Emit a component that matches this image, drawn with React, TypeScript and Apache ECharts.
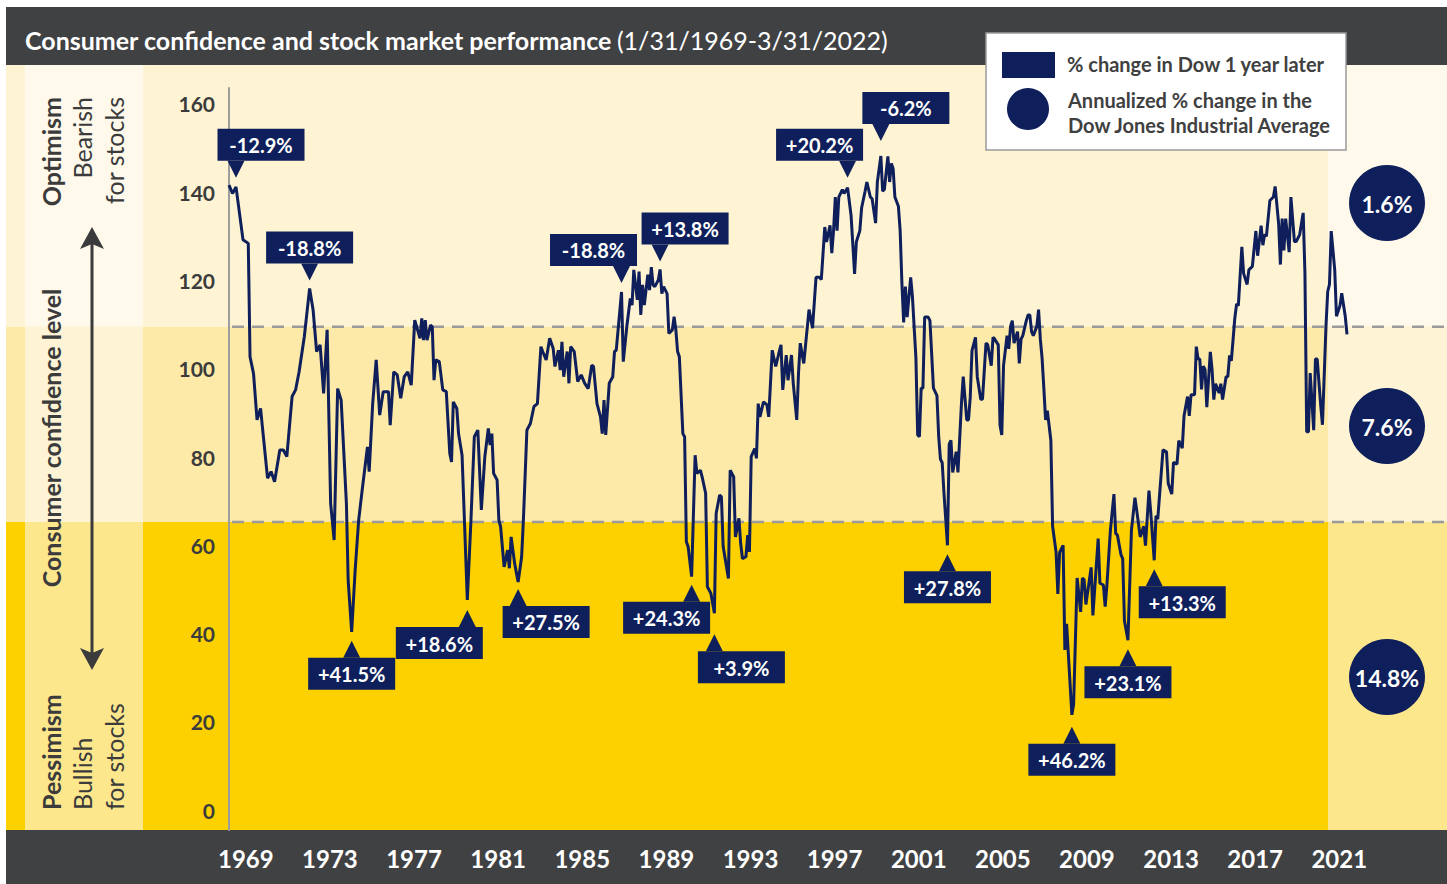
import React, { useEffect, useRef } from "react";
import * as echarts from "echarts";

// Consumer confidence readings, [month, index level]
const conf1960s: [string, number][] = [
  ["1969-01", 141.6], ["1969-03", 139.7], ["1969-05", 141.2], ["1969-09", 129.2], ["1969-12", 128.4],
];
const conf1970s: [string, number][] = [
  ["1970-01", 102.7], ["1970-03", 98.9], ["1970-05", 88.4], ["1970-07", 91.0], ["1970-11", 75.2],
  ["1971-01", 76.7], ["1971-03", 74.4], ["1971-06", 81.6], ["1971-08", 81.6], ["1971-10", 80.1], ["1971-11", 84.6],
  ["1972-01", 93.7], ["1972-03", 95.2], ["1972-05", 99.3], ["1972-08", 107.3], ["1972-11", 118.2],
  ["1973-01", 113.3], ["1973-03", 103.9], ["1973-05", 105.4], ["1973-07", 94.4], ["1973-09", 108.8], ["1973-11", 69.5],
  ["1974-01", 61.2], ["1974-03", 95.5], ["1974-05", 92.9], ["1974-08", 69.5], ["1974-09", 52.1], ["1974-11", 40.4],
  ["1975-01", 54.4], ["1975-03", 65.7], ["1975-05", 72.5], ["1975-08", 82.3], ["1975-09", 76.7], ["1975-11", 92.1],
  ["1976-01", 102.0], ["1976-03", 89.5], ["1976-05", 94.8], ["1976-08", 94.8], ["1976-09", 87.2], ["1976-11", 99.3],
  ["1977-01", 98.6], ["1977-03", 93.3], ["1977-05", 98.2], ["1977-07", 99.3], ["1977-09", 96.3], ["1977-11", 111.0],
  ["1978-02", 106.9], ["1978-03", 111.4], ["1978-04", 106.5], ["1978-05", 111.0], ["1978-06", 106.5], ["1978-08", 109.9],
  ["1978-09", 109.5], ["1978-10", 97.4], ["1978-11", 102.0],
  ["1979-01", 101.6], ["1979-03", 95.2], ["1979-05", 94.8], ["1979-07", 80.8], ["1979-08", 78.9], ["1979-09", 92.5],
  ["1979-11", 91.0], ["1979-12", 85.3],
];
const conf1980s: [string, number][] = [
  ["1980-02", 80.4], ["1980-05", 47.6], ["1980-07", 65.0], ["1980-09", 84.6], ["1980-11", 86.1],
  ["1981-01", 68.0], ["1981-03", 80.1], ["1981-05", 86.5], ["1981-06", 82.7], ["1981-07", 85.3], ["1981-08", 76.3],
  ["1981-10", 74.8], ["1981-11", 65.7], ["1981-12", 64.2],
  ["1982-02", 55.1], ["1982-04", 58.9], ["1982-05", 54.8], ["1982-06", 61.9], ["1982-08", 55.9], ["1982-10", 51.7], ["1982-12", 57.4],
  ["1983-01", 65.7], ["1983-03", 86.1], ["1983-05", 87.6], ["1983-07", 91.4], ["1983-09", 92.1], ["1983-11", 105.0], ["1983-12", 103.9],
  ["1984-02", 102.0], ["1984-04", 106.9], ["1984-06", 104.6], ["1984-07", 100.5], ["1984-09", 104.2], ["1984-10", 99.7],
  ["1984-11", 106.1], ["1984-12", 98.2],
  ["1985-02", 103.9], ["1985-03", 96.7], ["1985-04", 105.0], ["1985-06", 103.9], ["1985-08", 97.1], ["1985-10", 98.6], ["1985-12", 96.7],
  ["1986-02", 95.5], ["1986-04", 100.8], ["1986-05", 100.5], ["1986-07", 92.1], ["1986-09", 89.1], ["1986-10", 85.3],
  ["1986-11", 92.9], ["1986-12", 85.0],
  ["1987-02", 96.7], ["1987-04", 98.2], ["1987-05", 103.9], ["1987-06", 104.2], ["1987-09", 117.4], ["1987-10", 101.6], ["1987-12", 109.5],
  ["1988-02", 115.9], ["1988-03", 114.4], ["1988-04", 122.4], ["1988-06", 115.6], ["1988-07", 122.0], ["1988-08", 112.2],
  ["1988-09", 119.0], ["1988-10", 114.4], ["1988-12", 121.3],
  ["1989-01", 117.8], ["1989-02", 123.0], ["1989-03", 119.0], ["1989-04", 118.6], ["1989-06", 120.1], ["1989-07", 122.5],
  ["1989-08", 117.0], ["1989-09", 118.6], ["1989-11", 117.0], ["1989-12", 108.0],
];
const conf1990s: [string, number][] = [
  ["1990-02", 108.8], ["1990-03", 111.8], ["1990-04", 108.8], ["1990-05", 103.9], ["1990-06", 102.7], ["1990-08", 85.3],
  ["1990-09", 84.6], ["1990-10", 60.8], ["1990-11", 59.7],
  ["1991-01", 52.9], ["1991-03", 80.4], ["1991-04", 76.3], ["1991-06", 77.0], ["1991-07", 75.5], ["1991-09", 71.8],
  ["1991-10", 50.6], ["1991-12", 49.1],
  ["1992-02", 44.6], ["1992-03", 67.2], ["1992-05", 71.4], ["1992-06", 71.0], ["1992-07", 59.7], ["1992-10", 52.5], ["1992-11", 77.0],
  ["1993-01", 75.5], ["1993-02", 61.9], ["1993-04", 66.1], ["1993-05", 60.4], ["1993-06", 57.0], ["1993-08", 57.4],
  ["1993-09", 62.3], ["1993-10", 58.5], ["1993-11", 80.1],
  ["1994-01", 81.9], ["1994-02", 79.7], ["1994-03", 92.1], ["1994-04", 89.1], ["1994-06", 92.5], ["1994-08", 91.8],
  ["1994-09", 89.1], ["1994-11", 104.2],
  ["1995-01", 100.5], ["1995-03", 103.9], ["1995-04", 105.4], ["1995-05", 95.2], ["1995-07", 103.1], ["1995-08", 97.4],
  ["1995-10", 103.1], ["1995-11", 96.7],
  ["1996-01", 88.4], ["1996-02", 99.0], ["1996-03", 105.8], ["1996-05", 101.2], ["1996-08", 113.4], ["1996-10", 109.2], ["1996-12", 120.7],
  ["1997-02", 120.7], ["1997-03", 120.2], ["1997-05", 132.1], ["1997-06", 128.7], ["1997-08", 132.5], ["1997-09", 126.2],
  ["1997-10", 131.3], ["1997-11", 138.9], ["1997-12", 131.3],
  ["1998-01", 138.9], ["1998-03", 140.6], ["1998-04", 139.7], ["1998-06", 141.0], ["1998-08", 134.7], ["1998-10", 121.5], ["1998-11", 128.7],
  ["1999-01", 131.3], ["1999-02", 136.4], ["1999-04", 140.2], ["1999-05", 142.3], ["1999-07", 138.9], ["1999-08", 138.5],
  ["1999-10", 133.0], ["1999-11", 142.3],
];
const conf2000s: [string, number][] = [
  ["2000-01", 148.2], ["2000-02", 140.2], ["2000-03", 140.6], ["2000-05", 148.1], ["2000-06", 142.3], ["2000-07", 146.5],
  ["2000-08", 145.3], ["2000-09", 138.9], ["2000-11", 136.8], ["2000-12", 131.3],
  ["2001-01", 119.4], ["2001-02", 110.5], ["2001-03", 118.6], ["2001-04", 111.7], ["2001-06", 120.7], ["2001-07", 116.4],
  ["2001-09", 102.4], ["2001-10", 85.0], ["2001-11", 84.6], ["2001-12", 95.6],
  ["2002-01", 95.6], ["2002-02", 111.7], ["2002-04", 111.7], ["2002-05", 110.9], ["2002-07", 95.6], ["2002-09", 93.9],
  ["2002-10", 84.6], ["2002-11", 79.5], ["2002-12", 78.7],
  ["2003-01", 71.9], ["2003-03", 60.0], ["2003-04", 82.9], ["2003-05", 83.8], ["2003-06", 76.5], ["2003-08", 81.2],
  ["2003-09", 76.5], ["2003-11", 92.2], ["2003-12", 98.2],
  ["2004-02", 88.4], ["2004-03", 88.4], ["2004-04", 93.5], ["2004-05", 104.1], ["2004-07", 107.1], ["2004-08", 98.2],
  ["2004-10", 93.1], ["2004-11", 93.1],
  ["2005-01", 105.8], ["2005-02", 105.4], ["2005-04", 100.7], ["2005-05", 107.1], ["2005-06", 106.7], ["2005-08", 105.4],
  ["2005-09", 87.2], ["2005-10", 85.0], ["2005-11", 100.7],
  ["2006-01", 107.5], ["2006-02", 104.5], ["2006-03", 109.6], ["2006-04", 110.9], ["2006-05", 105.8], ["2006-07", 108.4],
  ["2006-08", 101.2], ["2006-09", 106.7], ["2006-10", 107.5], ["2006-12", 110.9],
  ["2007-01", 112.2], ["2007-02", 112.2], ["2007-03", 108.4], ["2007-04", 107.5], ["2007-06", 109.6], ["2007-07", 113.4],
  ["2007-08", 106.7], ["2007-09", 102.4], ["2007-10", 95.6], ["2007-11", 88.4], ["2007-12", 90.5],
  ["2008-02", 83.8], ["2008-03", 64.3], ["2008-05", 58.4], ["2008-06", 49.0], ["2008-07", 58.4], ["2008-09", 60.0],
  ["2008-10", 36.3], ["2008-11", 42.2], ["2008-12", 35.3],
  ["2009-02", 21.6], ["2009-03", 24.0], ["2009-05", 52.6], ["2009-07", 44.9], ["2009-08", 52.6], ["2009-09", 52.2], ["2009-10", 46.6],
];
const conf2010s: [string, number][] = [
  ["2010-01", 55.0], ["2010-02", 44.1], ["2010-05", 61.5], ["2010-06", 51.4], ["2010-08", 51.0], ["2010-09", 46.1],
  ["2010-10", 51.0], ["2010-12", 63.5],
  ["2011-02", 71.6], ["2011-03", 62.7], ["2011-04", 62.3], ["2011-06", 57.9], ["2011-07", 57.0], ["2011-08", 42.9],
  ["2011-10", 38.5], ["2011-12", 63.5],
  ["2012-02", 70.8], ["2012-03", 67.9], ["2012-05", 61.9], ["2012-07", 64.3], ["2012-08", 59.9], ["2012-10", 72.4], ["2012-11", 67.5],
  ["2013-01", 56.6], ["2013-02", 66.7], ["2013-03", 65.9], ["2013-06", 81.6], ["2013-08", 81.2], ["2013-09", 74.0],
  ["2013-11", 71.6], ["2013-12", 78.8],
  ["2014-02", 78.4], ["2014-03", 83.7], ["2014-05", 82.0], ["2014-06", 89.3], ["2014-08", 93.7], ["2014-09", 89.3],
  ["2014-10", 94.1], ["2014-12", 94.1],
  ["2015-01", 105.0], ["2015-02", 102.2], ["2015-03", 102.2], ["2015-04", 95.3], ["2015-05", 100.6], ["2015-06", 99.8],
  ["2015-07", 91.3], ["2015-09", 103.8], ["2015-10", 99.8], ["2015-11", 93.0], ["2015-12", 96.6],
  ["2016-02", 94.5], ["2016-03", 96.6], ["2016-04", 93.0], ["2016-06", 98.2], ["2016-07", 98.2], ["2016-08", 103.0],
  ["2016-09", 101.8], ["2016-11", 111.5], ["2016-12", 114.7],
  ["2017-01", 114.3], ["2017-03", 127.6], ["2017-04", 121.6], ["2017-06", 119.1], ["2017-07", 122.4], ["2017-09", 123.2],
  ["2017-11", 131.2], ["2017-12", 125.6],
  ["2018-02", 132.4], ["2018-03", 128.0], ["2018-04", 130.4], ["2018-05", 130.0], ["2018-07", 138.1], ["2018-09", 138.9],
  ["2018-10", 141.3], ["2018-12", 132.8],
  ["2019-01", 123.6], ["2019-02", 134.0], ["2019-03", 126.8], ["2019-04", 134.0], ["2019-06", 126.4], ["2019-07", 138.9],
  ["2019-09", 128.8], ["2019-10", 128.8], ["2019-12", 130.4],
];
const conf2020s: [string, number][] = [
  ["2020-02", 135.3], ["2020-03", 121.6], ["2020-04", 85.7], ["2020-05", 85.7], ["2020-06", 99.0], ["2020-08", 86.1],
  ["2020-09", 102.2], ["2020-10", 102.2], ["2020-12", 91.7],
  ["2021-01", 87.3], ["2021-03", 109.5], ["2021-04", 117.5], ["2021-05", 119.1], ["2021-06", 131.2], ["2021-08", 122.4],
  ["2021-09", 111.9], ["2021-11", 114.3], ["2021-12", 117.1],
  ["2022-02", 111.9], ["2022-03", 107.8],
];

const yTicks = [0, 20, 40, 60, 80, 100, 120, 140, 160];
const xTickYears = [1969, 1973, 1977, 1981, 1985, 1989, 1993, 1997, 2001, 2005, 2009, 2013, 2017, 2021];
const bandThresholds = [109.5, 65.3];
const bandReturns = ["1.6%", "7.6%", "14.8%"];

const calloutTexts = [
  "-12.9%", "-18.8%", "+41.5%", "+18.6%", "+27.5%", "-18.8%", "+13.8%", "+24.3%",
  "+3.9%", "+20.2%", "-6.2%", "+27.8%", "+46.2%", "+23.1%", "+13.3%",
];
const calloutDates = [
  "1969-05", "1972-11", "1974-11", "1980-05", "1982-10", "1987-09", "1989-07", "1991-01",
  "1992-02", "1998-06", "2000-01", "2003-03", "2009-02", "2011-10", "2013-01",
];

// layout of the callouts (side of the line, box shift, gap to the line)
const calloutLayout = [
  { up: true, dx: 25, gap: 9 }, { up: true, dx: 0, gap: 8 }, { up: false, dx: 0, gap: 9 },
  { up: false, dx: -28, gap: 10 }, { up: false, dx: 28, gap: 7 }, { up: true, dx: -28, gap: 9 },
  { up: true, dx: 25, gap: 8 }, { up: false, dx: -25, gap: 8 }, { up: false, dx: 27, gap: 21 },
  { up: true, dx: -28, gap: 10 }, { up: true, dx: 25, gap: 15 }, { up: false, dx: 0, gap: 9 },
  { up: false, dx: 0, gap: 12 }, { up: false, dx: 0, gap: 9 }, { up: false, dx: 28, gap: 9 },
];

const NAVY = "#0e1f5b";
const DARK = "#404143";
const TEXT = "#3b3b3b";
const FONT = "Lato, 'Open Sans', sans-serif";

const toYear = (d: string) => {
  const [y, m] = d.split("-").map(Number);
  return y + (m - 1) / 12;
};

const readings = [...conf1960s, ...conf1970s, ...conf1980s, ...conf1990s, ...conf2000s, ...conf2010s, ...conf2020s];
const seriesData = readings.map(([d, v]) => [toYear(d), v]);

export default function App() {
  const ref = useRef<HTMLDivElement>(null);

  useEffect(() => {
    const chart = echarts.init(ref.current!, null, { renderer: "svg" });
    chart.setOption({
      animation: false,
      title: {
        text: "{b|Consumer confidence and stock market performance} {r|(1/31/1969-3/31/2022)}",
        left: 25,
        top: 27,
        padding: 0,
        z: 10,
        textStyle: {
          rich: {
            b: { fontFamily: FONT, fontWeight: "bold", fontSize: 25, color: "#ffffff" },
            r: { fontFamily: FONT, fontWeight: "normal", fontSize: 25, color: "#ffffff" },
          },
        },
      },
      grid: { left: 229, right: 93, top: 88, bottom: 54 },
      xAxis: {
        type: "value",
        min: 1969,
        max: 2022.5,
        z: 5,
        axisLine: { show: false },
        axisTick: { show: false },
        splitLine: { show: false },
        axisLabel: {
          customValues: xTickYears.map((y) => y + 0.8),
          formatter: (v: number) => String(Math.floor(v)),
          color: "#ffffff",
          fontFamily: FONT,
          fontWeight: "bold",
          fontSize: 24,
          margin: 16,
        },
      },
      yAxis: {
        type: "value",
        min: -4.5,
        max: 163.6,
        z: 5,
        axisLine: { show: true, lineStyle: { color: "#9d9d9d", width: 2 } },
        axisTick: { show: false },
        splitLine: { show: false },
        axisLabel: {
          customValues: yTicks,
          color: TEXT,
          fontFamily: FONT,
          fontWeight: "bold",
          fontSize: 21,
          margin: 14,
        },
      },
      series: [
        {
          type: "line",
          data: seriesData,
          showSymbol: false,
          symbol: "none",
          silent: true,
          z: 6,
          lineStyle: { color: NAVY, width: 3 },
        },
      ],
    });

    const P = (x: number, v: number) => chart.convertToPixel({ seriesIndex: 0 }, [x, v]) as number[];
    const yHi = P(1969, bandThresholds[0])[1];
    const yLo = P(1969, bandThresholds[1])[1];
    const top = 65;
    const bottom = 830;

    const els: any[] = [];
    const rect = (x: number, y: number, w: number, h: number, fill: string, z = 0) =>
      els.push({ type: "rect", shape: { x, y, width: w, height: h }, style: { fill }, z, silent: true });
    const text = (x: number, y: number, t: string, font: string, fill: string, align = "center", rotation = 0, z = 1) =>
      els.push({
        type: "text",
        x,
        y,
        rotation,
        z,
        silent: true,
        style: { text: t, font, fill, align, verticalAlign: "middle", textAlign: align, textVerticalAlign: "middle" },
      });

    // bands
    rect(6, top, 1441, yHi - top, "#fef4d3");
    rect(6, yHi, 1441, yLo - yHi, "#fde9a8");
    rect(6, yLo, 1441, bottom - yLo, "#fdd100");
    for (const x0 of [25, 1328]) {
      const w = x0 === 25 ? 118 : 119;
      rect(x0, top, w, yHi - top, "#fef9eb");
      rect(x0, yHi, w, yLo - yHi, "#fef4d5");
      rect(x0, yLo, w, bottom - yLo, "#fde78d");
    }
    rect(6, 7, 1441, 58, DARK);
    rect(6, bottom, 1441, 884 - bottom, DARK);

    // dashed thresholds
    for (const yy of [yHi, yLo]) {
      els.push({
        type: "line",
        z: 1,
        silent: true,
        shape: { x1: 232, y1: yy, x2: 1447, y2: yy },
        style: { stroke: "#9b9b9b", lineWidth: 2.5, lineDash: [12, 8] },
      });
    }

    // left side texts
    const R = Math.PI / 2;
    text(51, 97, "Optimism", `bold 25px ${FONT}`, TEXT, "right", R);
    text(82, 97, "Bearish", `25px ${FONT}`, TEXT, "right", R);
    text(114, 97, "for stocks", `25px ${FONT}`, TEXT, "right", R);
    text(51, 438, "Consumer confidence level", `bold 25px ${FONT}`, TEXT, "center", R);
    text(51, 810, "Pessimism", `bold 25px ${FONT}`, TEXT, "left", R);
    text(82, 810, "Bullish", `25px ${FONT}`, TEXT, "left", R);
    text(114, 810, "for stocks", `25px ${FONT}`, TEXT, "left", R);

    // arrow
    els.push({ type: "line", z: 1, silent: true, shape: { x1: 92, y1: 240, x2: 92, y2: 658 }, style: { stroke: TEXT, lineWidth: 3 } });
    els.push({ type: "polygon", z: 1, silent: true, shape: { points: [[92, 227], [104, 249], [92, 244], [80, 249]] }, style: { fill: TEXT } });
    els.push({ type: "polygon", z: 1, silent: true, shape: { points: [[92, 670], [104, 648], [92, 653], [80, 648]] }, style: { fill: TEXT } });

    // band return circles
    const circleY = [203, 426, 677];
    bandReturns.forEach((r, i) => {
      els.push({ type: "circle", z: 2, silent: true, shape: { cx: 1387, cy: circleY[i], r: 38 }, style: { fill: NAVY } });
      text(1387, circleY[i] + 1, r, `bold 23px ${FONT}`, "#ffffff", "center", 0, 3);
    });

    // callouts
    const lookup = new Map(readings.map(([d, v]) => [d, v]));
    calloutTexts.forEach((t, i) => {
      const d = calloutDates[i];
      const L = calloutLayout[i];
      const [px, py] = P(toYear(d), lookup.get(d) as number);
      const tipY = L.up ? py - L.gap : py + L.gap;
      const baseY = L.up ? tipY - 17 : tipY + 17;
      const boxY = L.up ? baseY - 32 : baseY;
      const cx = px + L.dx;
      els.push({
        type: "polygon",
        z: 8,
        silent: true,
        shape: { points: [[px - 8.5, baseY], [px + 8.5, baseY], [px, tipY]] },
        style: { fill: NAVY },
      });
      els.push({ type: "rect", z: 8, silent: true, shape: { x: cx - 43.5, y: boxY, width: 87, height: 32 }, style: { fill: NAVY } });
      text(cx, boxY + 16.5, t, `bold 20px ${FONT}`, "#ffffff", "center", 0, 9);
    });

    // legend
    els.push({
      type: "rect",
      z: 10,
      silent: true,
      shape: { x: 986, y: 33, width: 360, height: 117 },
      style: { fill: "#ffffff", stroke: "#9a9a9a", lineWidth: 1.5 },
    });
    els.push({ type: "rect", z: 11, silent: true, shape: { x: 1002, y: 52, width: 53, height: 26 }, style: { fill: NAVY } });
    els.push({ type: "circle", z: 11, silent: true, shape: { cx: 1028, cy: 109, r: 21 }, style: { fill: NAVY } });
    text(1067, 64, "% change in Dow 1 year later", `bold 20px ${FONT}`, "#404040", "left", 0, 11);
    text(1068, 100, "Annualized % change in the", `bold 20px ${FONT}`, "#404040", "left", 0, 11);
    text(1068, 125, "Dow Jones Industrial Average", `bold 20px ${FONT}`, "#404040", "left", 0, 11);

    chart.setOption({ graphic: { elements: els } });

    return () => chart.dispose();
  }, []);

  return (
    <div
      ref={ref}
      style={{ position: "fixed", left: 0, top: 0, width: 1447, height: 884, background: "#ffffff" }}
    />
  );
}
